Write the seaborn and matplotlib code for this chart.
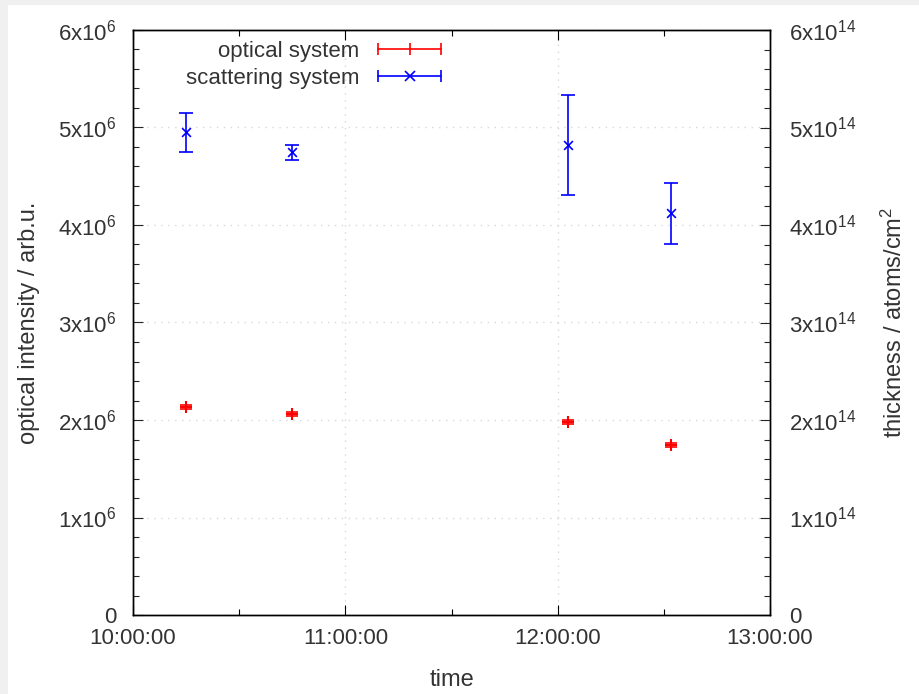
import pandas as pd
import seaborn as sns
import matplotlib
matplotlib.use('Agg')
import matplotlib.pyplot as plt
import matplotlib.dates as mdates
from matplotlib.lines import Line2D
from matplotlib.legend_handler import HandlerLine2D, HandlerTuple
from matplotlib.ticker import FuncFormatter, MultipleLocator

# measurement times
times = ['10:15:00', '10:45:00', '12:03:00', '12:32:00']
# optical system (left axis, arb.u.)
optical = [2.13e6, 2.06e6, 1.98e6, 1.74e6]
optical_err = [0.02e6, 0.02e6, 0.02e6, 0.02e6]
# scattering system (right axis, atoms/cm^2)
scatter = [4.95e14, 4.745e14, 4.82e14, 4.12e14]
scatter_err = [0.20e14, 0.08e14, 0.51e14, 0.315e14]

df = pd.DataFrame({
    'time': pd.to_datetime(['2020-01-01 ' + t for t in times]),
    'optical': optical, 'optical_err': optical_err,
    'scatter': scatter, 'scatter_err': scatter_err,
})

sns.set_style('white')
plt.rcParams['font.family'] = ['Liberation Sans', 'DejaVu Sans']
plt.rcParams['font.size'] = 11
txt = '#333333'
fs = 16

fig = plt.figure(figsize=(9.2, 6.94), dpi=100, facecolor='#f0f0f0')
fig.patches.append(plt.Rectangle((8 / 920, 0), 1, 1 - 5 / 694, transform=fig.transFigure,
                                 facecolor='white', edgecolor='none', zorder=-1))
ax = fig.add_axes([133 / 920, 79 / 694, 637 / 920, 585 / 694])
ax2 = ax.twinx()

# optical system
ax.errorbar(df['time'], df['optical'], yerr=df['optical_err'], fmt='none',
            ecolor='red', elinewidth=1.2, capsize=4, capthick=1.2)
sns.scatterplot(data=df, x='time', y='optical', ax=ax, marker='+', s=70,
                color='red', linewidth=1.5, legend=False)

# scattering system
ax2.errorbar(df['time'], df['scatter'], yerr=df['scatter_err'], fmt='none',
             ecolor='blue', elinewidth=1.2, capsize=5, capthick=1.2)
sns.scatterplot(data=df, x='time', y='scatter', ax=ax2, marker='x', s=40,
                color='blue', linewidth=1.2, legend=False)

ax.set_xlim(pd.Timestamp('2020-01-01 10:00:00'), pd.Timestamp('2020-01-01 13:00:00'))
ax.set_ylim(0, 6e6)
ax2.set_ylim(0, 6e14)

ax.xaxis.set_major_locator(mdates.HourLocator())
ax.xaxis.set_minor_locator(mdates.MinuteLocator(byminute=[30]))
ax.xaxis.set_major_formatter(mdates.DateFormatter('%H:%M:%S'))


def sci(exp):
    def f(v, pos):
        m = int(round(v / 10 ** exp))
        if m == 0:
            return '0'
        return r'$\mathregular{%dx10^{%d}}$' % (m, exp)
    return FuncFormatter(f)


ax.yaxis.set_major_locator(MultipleLocator(1e6))
ax.yaxis.set_minor_locator(MultipleLocator(0.2e6))
ax.yaxis.set_major_formatter(sci(6))
ax2.yaxis.set_major_locator(MultipleLocator(1e14))
ax2.yaxis.set_minor_locator(MultipleLocator(0.2e14))
ax2.yaxis.set_major_formatter(sci(14))

ax.tick_params(axis='x', which='both', direction='in', top=True, bottom=True,
               colors='black', labelcolor=txt, labelsize=fs, pad=9)
ax.tick_params(axis='y', which='both', direction='in', left=True, right=False,
               labelcolor=txt, labelsize=fs, pad=12)
ax2.tick_params(axis='y', which='both', direction='in', right=True,
                labelcolor=txt, labelsize=fs, pad=14)
for a, axis in ((ax, 'x'), (ax, 'y'), (ax2, 'y')):
    a.tick_params(axis=axis, which='major', length=7, width=0.8)
    a.tick_params(axis=axis, which='minor', length=4, width=0.8)

ax.grid(True, which='major', color='#d8d8d8', linestyle=(0, (1, 4)), linewidth=1)

for a in (ax, ax2):
    for s in a.spines.values():
        s.set_color('black')
        s.set_linewidth(1)

ax.set_xlabel('time', fontsize=17, color=txt, labelpad=15)
ax.set_ylabel('optical intensity / arb.u.', fontsize=17, color=txt, labelpad=13)
ax2.set_ylabel(r'thickness / atoms/cm$\mathregular{^2}$', fontsize=17, color=txt,
               labelpad=18)

# gnuplot style legend keys
r_line = Line2D([], [], color='red', lw=1.2, marker='|', markersize=9, markeredgewidth=1.2)
r_mid = Line2D([], [], color='red', lw=0, marker='|', markersize=9, markeredgewidth=1.2)
b_line = Line2D([], [], color='blue', lw=1.2, marker='|', markersize=9, markeredgewidth=1.2)
b_mid = Line2D([], [], color='blue', lw=0, marker='x', markersize=7, markeredgewidth=1.2)
leg = ax.legend([(r_line, r_mid), (b_line, b_mid)], ['optical system', 'scattering system'],
                handler_map={r_mid: HandlerLine2D(numpoints=1), b_mid: HandlerLine2D(numpoints=1),
                             tuple: HandlerTuple(ndivide=1, pad=0)},
                numpoints=2, markerfirst=False, frameon=False, loc='upper right',
                bbox_to_anchor=(0.4935, 0.982), borderaxespad=0, borderpad=0,
                fontsize=16, handlelength=3.4, labelspacing=0.3, handletextpad=0.55)
for t in leg.get_texts():
    t.set_color(txt)

fig.savefig('out.png', dpi=100, facecolor=fig.get_facecolor())
